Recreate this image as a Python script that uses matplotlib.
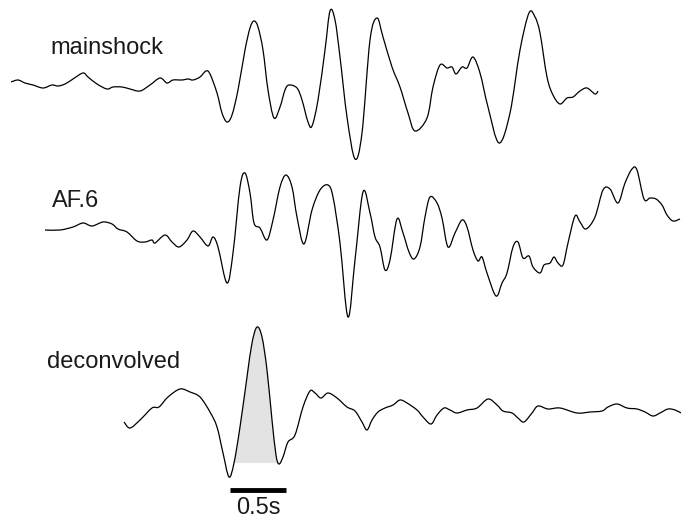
import matplotlib.pyplot as plt
import numpy as np
from matplotlib.path import Path
from matplotlib.patches import PathPatch

# traces (x, y in picture pixels, y grows downwards)
main_x = [11, 18, 25, 33, 43, 52, 58, 65, 73, 83, 88, 97, 107, 113, 122, 130, 140, 150, 160, 167,
          173, 182, 188, 193, 200, 206, 210, 217, 222, 227, 232, 238, 245, 250, 254, 258, 263, 268,
          274, 280, 285, 289, 297, 302, 308, 312, 318, 325, 330, 335, 340, 347, 355, 362, 370, 377,
          383, 392, 400, 408, 415, 427, 433, 440, 447, 452, 456, 462, 467, 473, 480, 488, 499, 510,
          520, 529, 535, 540, 547, 553, 560, 567, 573, 580, 587, 595, 598]
main_y = [82, 80, 83, 85, 88, 85, 86, 84, 79, 73, 77, 84, 89, 87, 87, 89, 91, 85, 78, 83,
          80, 80, 79, 80, 77, 71, 74, 93, 113, 122, 115, 90, 50, 28, 21, 27, 50, 90,
          118, 107, 90, 85, 88, 100, 122, 126, 100, 50, 11, 20, 57, 117, 159, 133, 40, 18,
          37, 67, 87, 113, 131, 118, 87, 65, 68, 67, 74, 67, 68, 57, 73, 107, 143, 113,
          50, 13, 17, 33, 77, 95, 104, 98, 97, 91, 88, 94, 91]

af6_x = [45, 60, 73, 83, 92, 103, 112, 118, 127, 137, 145, 152, 155, 165, 172, 179, 187, 193, 200,
         208, 213, 218, 227, 233, 240, 245, 250, 254, 260, 267, 273, 280, 286, 292, 297, 304, 312,
         320, 328, 333, 340, 348, 355, 363, 370, 375, 380, 385, 390, 397, 403, 409, 414, 420, 425,
         430, 437, 442, 448, 455, 462, 467, 473, 478, 482, 487, 496, 502, 507, 513, 518, 523, 529,
         533, 540, 544, 550, 554, 558, 563, 568, 575, 580, 586, 595, 603, 610, 618, 625, 632, 637,
         644, 650, 656, 662, 667, 673, 680]
af6_y = [230, 230, 227, 223, 226, 222, 224, 229, 232, 241, 242, 240, 243, 235, 242, 247, 240, 231, 237,
         246, 237, 247, 283, 253, 187, 173, 193, 223, 228, 240, 220, 187, 175, 187, 217, 244, 210,
         190, 185, 197, 243, 317, 260, 192, 213, 237, 247, 270, 260, 219, 233, 252, 259, 247, 217,
         197, 203, 218, 247, 233, 220, 227, 250, 261, 257, 273, 296, 283, 273, 247, 242, 258, 256,
         267, 273, 265, 263, 257, 263, 265, 243, 216, 222, 229, 217, 190, 189, 203, 183, 169, 170,
         199, 198, 199, 205, 215, 221, 219]

dec_x = [124, 130, 140, 152, 159, 168, 180, 190, 200, 210, 217, 223, 229, 234, 240, 247, 252, 257,
         262, 267, 272, 276, 279, 283, 288, 295, 303, 310, 315, 321, 328, 337, 347, 355, 362, 367,
         372, 378, 385, 393, 400, 407, 417, 423, 431, 437, 444, 450, 457, 467, 477, 488, 497, 503,
         512, 518, 524, 532, 538, 548, 560, 577, 590, 602, 608, 617, 627, 637, 645, 653, 660, 668,
         675, 681]
dec_y = [422, 428, 420, 408, 407, 397, 389, 392, 397, 412, 427, 453, 477, 463, 427, 377, 343, 327,
         337, 370, 420, 455, 464, 457, 442, 435, 407, 391, 393, 398, 393, 398, 407, 411, 422, 430,
         420, 412, 408, 405, 400, 403, 410, 417, 424, 415, 408, 410, 413, 410, 408, 399, 405, 411,
         413, 418, 422, 413, 406, 409, 408, 413, 412, 411, 407, 404, 408, 409, 412, 416, 413, 409,
         410, 413]

labels = ["mainshock", "AF.6", "deconvolved"]
label_pos = [(50, 48), (52, 201), (47, 362)]
pulse = (234, 279)      # shaded main pulse of the deconvolved trace
pulse_base = 463
bar = (230, 286, 490)   # 0.5 s scale bar

plt.rcParams['font.family'] = ['Liberation Sans', 'DejaVu Sans']


def smooth_path(xs, ys):
    # catmull-rom through the picked points, drawn as cubic bezier pieces
    p = np.column_stack([xs, ys]).astype(float)
    p = np.vstack([p[0], p, p[-1]])
    verts = [p[1]]
    codes = [Path.MOVETO]
    for i in range(1, len(p) - 2):
        c1 = p[i] + (p[i + 1] - p[i - 1]) / 6
        c2 = p[i + 1] - (p[i + 2] - p[i]) / 6
        verts += [c1, c2, p[i + 1]]
        codes += [Path.CURVE4] * 3
    return Path(verts, codes)


fig = plt.figure(figsize=(6.81, 5.24), dpi=100)
ax = fig.add_axes([0, 0, 1, 1])
ax.set_xlim(0, 681)
ax.set_ylim(524, 0)
ax.axis('off')

dx = np.array(dec_x)
dy = np.array(dec_y)
m = (dx >= pulse[0]) & (dx <= pulse[1])
fill = smooth_path(dx[m], dy[m])
fv = np.vstack([fill.vertices, [[dx[m][-1], pulse_base], [dx[m][0], pulse_base], fill.vertices[0]]])
fc = list(fill.codes) + [Path.LINETO, Path.LINETO, Path.CLOSEPOLY]
ax.add_patch(PathPatch(Path(fv, fc), facecolor='#e3e3e3', edgecolor='none'))

for xs, ys in [(main_x, main_y), (af6_x, af6_y), (dec_x, dec_y)]:
    ax.add_patch(PathPatch(smooth_path(xs, ys), facecolor='none', edgecolor='black',
                           lw=0.9, joinstyle='round'))

for txt, (x, y) in zip(labels, label_pos):
    ax.text(x, y, txt, fontsize=17, va='center', ha='left', color='#1a1a1a')

ax.plot([bar[0], bar[1]], [bar[2], bar[2]], color='black', lw=3.5, solid_capstyle='butt')
ax.text((bar[0] + bar[1]) / 2, 508, "0.5s", fontsize=17, ha='center', va='center', color='#1a1a1a')

fig.savefig("out.png", dpi=100)
